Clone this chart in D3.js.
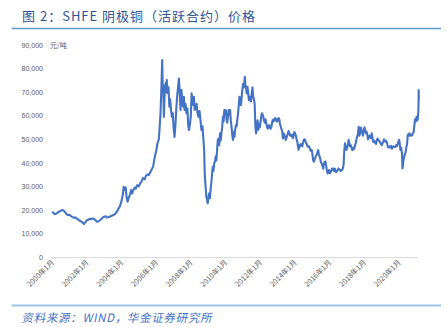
<!DOCTYPE html>
<html><head><meta charset="utf-8">
<script src="https://cdn.jsdelivr.net/npm/d3@7"></script>
<style>body{margin:0;background:#fff}svg{display:block}</style>
</head><body>
<svg id="c" width="447" height="327"></svg>
<script>
const titleText = "图 2：SHFE 阴极铜（活跃合约）价格";
const sourceText = "资料来源：WIND，华金证券研究所";
const unitLabel = "元/吨";
const yTicks = [0,10000,20000,30000,40000,50000,60000,70000,80000,90000];
const xTickLabels = ["2000年1月","2002年1月","2004年1月","2006年1月","2008年1月","2010年1月","2012年1月","2014年1月","2016年1月","2018年1月","2020年1月"];
const dates = [
"2000-01-04","2000-02-01","2000-03-01","2000-04-03","2000-05-08","2000-06-01","2000-07-03","2000-08-01","2000-09-01","2000-10-09","2000-11-01","2000-12-01",
"2001-01-02","2001-02-01","2001-03-01","2001-04-02","2001-05-08","2001-06-01","2001-07-02","2001-08-01","2001-09-03","2001-10-08","2001-11-01","2001-12-03",
"2002-01-04","2002-02-01","2002-03-01","2002-04-01","2002-05-08","2002-06-03","2002-07-01","2002-08-01","2002-09-02","2002-10-08","2002-11-01","2002-12-02",
"2003-01-02","2003-02-03","2003-03-03","2003-04-01","2003-05-08","2003-06-02","2003-07-01","2003-08-01","2003-09-01","2003-10-08","2003-11-03","2003-12-01",
"2004-01-02","2004-02-02","2004-02-20","2004-03-10","2004-04-01","2004-04-20","2004-05-10","2004-06-01","2004-07-01","2004-07-26","2004-08-16","2004-09-01","2004-10-08","2004-11-01","2004-12-01",
"2005-01-04","2005-02-01","2005-03-01","2005-04-01","2005-05-09","2005-06-01","2005-07-01","2005-08-01","2005-09-01","2005-10-10","2005-11-01","2005-12-01",
"2006-01-04","2006-02-01","2006-03-01","2006-04-03","2006-04-20","2006-05-11","2006-05-22","2006-06-01","2006-06-14","2006-07-03","2006-07-20","2006-08-01","2006-08-15","2006-09-01","2006-09-20","2006-10-09","2006-10-25","2006-11-10","2006-12-01","2006-12-20",
"2007-01-05","2007-01-25","2007-02-10","2007-03-01","2007-03-20","2007-04-10","2007-04-28","2007-05-15","2007-06-01","2007-06-20","2007-07-10","2007-07-25","2007-08-10","2007-08-25","2007-09-15","2007-10-05","2007-10-25","2007-11-10","2007-11-25","2007-12-15",
"2008-01-04","2008-01-20","2008-02-05","2008-02-25","2008-03-10","2008-03-25","2008-04-15","2008-05-05","2008-05-25","2008-06-15","2008-07-05","2008-07-25","2008-08-15","2008-09-05","2008-09-25","2008-10-10","2008-10-25","2008-11-10","2008-11-25","2008-12-10","2008-12-24",
"2009-01-10","2009-01-25","2009-02-10","2009-02-25","2009-03-10","2009-03-25","2009-04-10","2009-04-25","2009-05-10","2009-05-25","2009-06-10","2009-06-25","2009-07-10","2009-07-25","2009-08-10","2009-08-25","2009-09-10","2009-09-25","2009-10-10","2009-10-25","2009-11-10","2009-11-25","2009-12-10","2009-12-25",
"2010-01-10","2010-01-25","2010-02-10","2010-02-25","2010-03-10","2010-03-25","2010-04-10","2010-04-25","2010-05-10","2010-05-25","2010-06-10","2010-06-25","2010-07-10","2010-07-25","2010-08-10","2010-08-25","2010-09-10","2010-09-25","2010-10-10","2010-10-25","2010-11-10","2010-11-25","2010-12-10","2010-12-25",
"2011-01-10","2011-01-25","2011-02-15","2011-02-25","2011-03-10","2011-03-25","2011-04-10","2011-04-25","2011-05-10","2011-05-25","2011-06-10","2011-06-25","2011-07-10","2011-07-25","2011-08-10","2011-08-25","2011-09-10","2011-09-25","2011-10-10","2011-10-25","2011-11-10","2011-11-25","2011-12-10","2011-12-25",
"2012-01-10","2012-01-25","2012-02-10","2012-02-25","2012-03-10","2012-03-25","2012-04-10","2012-04-25","2012-05-10","2012-05-25","2012-06-10","2012-06-25","2012-07-10","2012-07-25","2012-08-10","2012-08-25","2012-09-10","2012-09-25","2012-10-10","2012-10-25","2012-11-10","2012-11-25","2012-12-10","2012-12-25",
"2013-01-10","2013-01-25","2013-02-10","2013-02-25","2013-03-10","2013-03-25","2013-04-10","2013-04-25","2013-05-10","2013-05-25","2013-06-10","2013-06-25","2013-07-10","2013-07-25","2013-08-10","2013-08-25","2013-09-10","2013-09-25","2013-10-10","2013-10-25","2013-11-10","2013-11-25","2013-12-10","2013-12-25",
"2014-01-10","2014-01-25","2014-02-10","2014-02-25","2014-03-10","2014-03-25","2014-04-10","2014-04-25","2014-05-10","2014-05-25","2014-06-10","2014-06-25","2014-07-10","2014-07-25","2014-08-10","2014-08-25","2014-09-10","2014-09-25","2014-10-10","2014-10-25","2014-11-10","2014-11-25","2014-12-10","2014-12-25",
"2015-01-10","2015-01-25","2015-02-10","2015-02-25","2015-03-10","2015-03-25","2015-04-10","2015-04-25","2015-05-10","2015-05-25","2015-06-10","2015-06-25","2015-07-10","2015-07-25","2015-08-10","2015-08-25","2015-09-10","2015-09-25","2015-10-10","2015-10-25","2015-11-10","2015-11-25","2015-12-10","2015-12-25",
"2016-01-10","2016-01-25","2016-02-10","2016-02-25","2016-03-10","2016-03-25","2016-04-10","2016-04-25","2016-05-10","2016-05-25","2016-06-10","2016-06-25","2016-07-10","2016-07-25","2016-08-10","2016-08-25","2016-09-10","2016-09-25","2016-10-10","2016-10-25","2016-11-10","2016-11-25","2016-12-10","2016-12-25",
"2017-01-10","2017-01-25","2017-02-10","2017-02-25","2017-03-10","2017-03-25","2017-04-10","2017-04-25","2017-05-10","2017-05-25","2017-06-10","2017-06-25","2017-07-10","2017-07-25","2017-08-10","2017-08-25","2017-09-10","2017-09-25","2017-10-10","2017-10-25","2017-11-10","2017-11-25","2017-12-10","2017-12-25",
"2018-01-10","2018-01-25","2018-02-10","2018-02-25","2018-03-10","2018-03-25","2018-04-10","2018-04-25","2018-05-10","2018-05-25","2018-06-10","2018-06-25","2018-07-10","2018-07-25","2018-08-10","2018-08-25","2018-09-10","2018-09-25","2018-10-10","2018-10-25","2018-11-10","2018-11-25","2018-12-10","2018-12-25",
"2019-01-10","2019-01-25","2019-02-10","2019-02-25","2019-03-10","2019-03-25","2019-04-10","2019-04-25","2019-05-10","2019-05-25","2019-06-10","2019-06-25","2019-07-10","2019-07-25","2019-08-10","2019-08-25","2019-09-10","2019-09-25","2019-10-10","2019-10-25","2019-11-10","2019-11-25","2019-12-10","2019-12-25",
"2020-01-10","2020-01-20","2020-02-05","2020-02-20","2020-03-10","2020-03-20","2020-03-30","2020-04-10","2020-04-25","2020-05-10","2020-05-25","2020-06-10","2020-06-25","2020-07-10","2020-07-25","2020-08-10","2020-08-25","2020-09-10","2020-09-25","2020-10-10","2020-10-25","2020-11-10","2020-11-25","2020-12-10","2020-12-25",
"2021-01-10","2021-01-25","2021-02-05","2021-02-15","2021-02-20","2021-02-25","2021-02-26"
];
const prices = [
19200,18700,18200,18500,18900,19300,19500,20000,19700,18900,18200,17800,
17900,17400,17000,16700,16800,16400,16000,15500,15100,14600,14000,14700,
15600,15800,16200,16000,16400,16200,15700,15000,15100,15600,16000,16700,
17100,17300,16800,16900,17200,17400,17700,17900,18500,19600,20600,21500,
23500,26500,29800,28500,29500,25500,23500,25000,26500,28400,27000,28000,29500,29000,30500,
30000,31300,32000,33500,33000,34500,35000,34800,36000,37500,38500,42000,
45000,48300,50000,60000,69500,83600,70900,73000,59500,70000,73700,70000,75100,69500,72000,63800,67000,63000,59500,61000,
55000,51000,55000,62000,68000,72000,75800,70000,62400,70900,66000,63800,68000,62400,65000,61000,63000,56000,53900,56000,
60000,69500,66600,64500,68000,62400,63100,65000,61000,59500,62000,58000,53900,55500,50000,45400,34100,30000,25600,24500,22800,
25500,27000,25000,29000,31300,35000,38300,36500,39700,40500,42600,41000,45400,49700,50300,47500,52500,49500,52500,55000,59500,57500,62400,60500,
62400,58500,57000,60000,62400,60500,62400,58000,55300,52000,49700,53000,51000,53900,56000,55500,58500,61000,64500,68000,67000,64500,68000,71000,
73500,72000,76500,73000,72300,69500,72300,70000,66600,68000,67000,66000,69500,72000,68000,67000,65000,55300,52500,56000,58000,54000,56500,55000,
57000,59500,61000,60500,59500,58000,57000,58500,57000,55300,54500,55500,56000,55000,54500,55000,57000,58100,57500,58500,59000,58000,58500,57500,
58500,59000,58500,56500,55500,54500,53500,50300,52500,52000,51000,49700,50500,51500,52500,53500,52500,51500,51500,52000,51000,50500,52000,53000,
52500,51500,50000,49000,46800,45500,47500,47000,48000,47500,47000,48500,49700,50000,49500,48500,48000,47000,46800,47000,46500,45400,45000,45500,
43500,41000,40500,41500,42000,43000,43500,44500,45400,43500,42600,41500,40000,39700,38500,37500,39700,40400,40500,39000,36500,35500,36000,36900,
35500,36000,36500,37500,37600,37000,36500,37500,36500,36000,36500,37000,37600,37200,37000,36500,36900,37000,37500,39000,45000,48300,46500,45500,
46500,47500,49700,48500,47000,47500,46500,45400,45500,46500,46000,47500,48300,50000,51000,52500,55300,51500,53000,55000,53500,52500,51500,54000,
55000,53900,52500,53100,52000,50000,50500,51500,51000,50500,52500,51000,49000,49500,48500,49000,48000,49500,50300,49700,49500,49000,48500,48000,
47500,48300,49000,50000,49500,49000,49300,48700,47500,46500,46800,47000,46500,47200,46000,46500,47000,46800,46600,47000,47500,47000,48000,49000,
49700,48500,45500,46500,44000,37600,39000,41200,42500,43500,44500,46800,48000,52000,51500,52500,51500,52000,51500,51800,52500,53000,56000,58500,57500,
59500,58000,58500,61000,63800,70900,66500
];

const svg = d3.select("#c");
const parse = d3.timeParse("%Y-%m-%d");
const data = dates.map((d,i)=>({date:parse(d), v:prices[i]}));

// header & footer
svg.append("text").attr("x",22).attr("y",21)
  .attr("font-family","'Noto Sans CJK SC', 'Liberation Sans', sans-serif")
  .attr("font-size",13).attr("letter-spacing",1).attr("fill","#2f5597").text(titleText);
svg.append("line").attr("x1",12).attr("x2",441).attr("y1",28.5).attr("y2",28.5)
  .attr("stroke","#5b9bd5").attr("stroke-width",1.5);
svg.append("line").attr("x1",12).attr("x2",441).attr("y1",305.5).attr("y2",305.5)
  .attr("stroke","#9dc3e6").attr("stroke-width",2);
svg.append("text").attr("x",22).attr("y",322)
  .attr("font-family","'Noto Sans CJK SC', 'Liberation Sans', sans-serif")
  .attr("font-size",11.5).attr("letter-spacing",0.7).attr("fill","#4472c4")
  .attr("transform","skewX(-12) translate(68,0)")
  .text(sourceText);

const x = d3.scaleTime().domain([new Date(2000,0,1), new Date(2021,2,3)]).range([52, 419]);
const y = d3.scaleLinear().domain([0,90000]).range([257, 45]);

// y axis
const yAxis = svg.append("g").attr("transform","translate(45,0)")
  .call(d3.axisLeft(y).tickValues(yTicks).tickSize(0).tickPadding(2).tickFormat(d3.format(",")));
yAxis.select(".domain").remove();
yAxis.selectAll("text").attr("font-family","'Liberation Sans', Arial, sans-serif")
  .attr("font-size",7).attr("fill","#595959");

svg.append("text").attr("x",50).attr("y",47.5)
  .attr("font-family","'Noto Sans CJK SC', sans-serif").attr("font-size",7).attr("fill","#595959")
  .text(unitLabel);

// x axis
const tickDates = xTickLabels.map(s=>{const m=s.match(/(\d+)年(\d+)月/);return new Date(+m[1],+m[2]-1,1);});
const xAxis = svg.append("g").attr("transform","translate(0,257)")
  .call(d3.axisBottom(x).tickValues(tickDates).tickSize(0).tickFormat((d,i)=>xTickLabels[i]));
xAxis.select(".domain").attr("stroke","#d9d9d9").attr("d","M51,0.5H418");
xAxis.selectAll("text")
  .attr("font-family","'Noto Sans CJK SC', sans-serif").attr("font-size",7.2).attr("fill","#595959")
  .attr("text-anchor","end").attr("dy",0).attr("y",0)
  .attr("transform","translate(2,6) rotate(-45)");

// line
svg.append("path").datum(data)
  .attr("fill","none").attr("stroke","#4472c4").attr("stroke-width",2.1).attr("stroke-linejoin","round")
  .attr("d", d3.line().x(d=>x(d.date)).y(d=>y(d.v)));
</script>
</body></html>
